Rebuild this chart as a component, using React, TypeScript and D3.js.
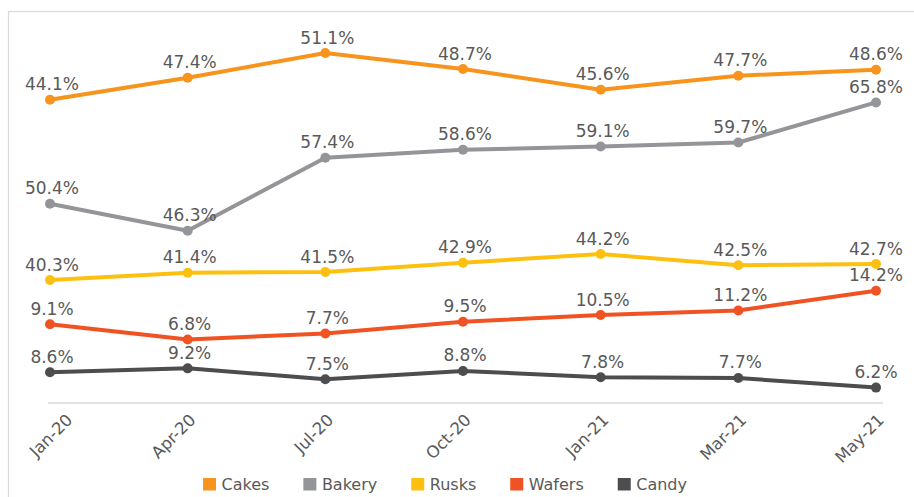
import { useEffect, useRef } from "react";
import * as d3 from "d3";

const width = 914;
const height = 497;
const plot = { left: 50, right: 876, top: 11, bottom: 403 };

const months = ["Jan-20", "Apr-20", "Jul-20", "Oct-20", "Jan-21", "Mar-21", "May-21"];

const cakes = [44.1, 47.4, 51.1, 48.7, 45.6, 47.7, 48.6];
const bakery = [50.4, 46.3, 57.4, 58.6, 59.1, 59.7, 65.8];
const rusks = [40.3, 41.4, 41.5, 42.9, 44.2, 42.5, 42.7];
const wafers = [9.1, 6.8, 7.7, 9.5, 10.5, 11.2, 14.2];
const candy = [8.6, 9.2, 7.5, 8.8, 7.8, 7.7, 6.2];

const seriesNames = ["Cakes", "Bakery", "Rusks", "Wafers", "Candy"];
const seriesValues = [cakes, bakery, rusks, wafers, candy];

// every series sits on its own hidden value axis (as in the source workbook)
const seriesDomains: [number, number][] = [
  [-1.4, 57.4],
  [20.1, 79.7],
  [21.85, 80.65],
  [-2.84, 56.64],
  [3.8, 64.9],
];

const seriesColors = ["#f7941e", "#939598", "#fdc010", "#f05323", "#4d4d4f"];

type Point = { month: string; value: number };

export default function App() {
  const svgRef = useRef<SVGSVGElement | null>(null);

  useEffect(() => {
    if (!svgRef.current) return;
    const svg = d3.select(svgRef.current);

    const x = d3.scalePoint<string>().domain(months).range([plot.left, plot.right]).padding(0);

    const series = seriesNames.map((name, i) => {
      const y = d3.scaleLinear().domain(seriesDomains[i]).range([plot.bottom, plot.top]);
      const points: Point[] = months.map((m, j) => ({ month: m, value: seriesValues[i][j] }));
      return { name, color: seriesColors[i], y, points };
    });

    // x 軸線
    svg
      .select(".x-axis-line")
      .attr("x1", plot.left - 2)
      .attr("x2", plot.right + 7)
      .attr("y1", plot.bottom)
      .attr("y2", plot.bottom)
      .attr("stroke", "#d9d9d9")
      .attr("stroke-width", 1.5);

    // x 軸文字 (斜 45 度)，最左邊的字不要超出左側
    const xLabels = svg
      .select(".x-labels")
      .selectAll<SVGTextElement, string>("text")
      .data(months)
      .join("text")
      .attr("text-anchor", "end")
      .attr("fill", "#595959")
      .style("font-family", "'DejaVu Sans', sans-serif")
      .style("font-size", "16.5px")
      .text((d) => d);

    xLabels.attr("transform", function (d) {
      const len = this.getComputedTextLength();
      let ax = (x(d) ?? 0) + 9;
      const leftEdge = ax - (len + 12) * Math.SQRT1_2;
      if (leftEdge < 28) ax += 28 - leftEdge;
      return `translate(${ax}, ${plot.bottom + 18}) rotate(-45)`;
    });

    const groups = svg
      .select(".series")
      .selectAll<SVGGElement, (typeof series)[number]>("g")
      .data(series)
      .join("g");

    groups
      .selectAll("path")
      .data((s) => [s])
      .join("path")
      .attr("fill", "none")
      .attr("stroke", (s) => s.color)
      .attr("stroke-width", 4)
      .attr("stroke-linejoin", "round")
      .attr("d", (s) =>
        d3
          .line<Point>()
          .x((d) => x(d.month) ?? 0)
          .y((d) => s.y(d.value))(s.points),
      );

    groups
      .selectAll("circle")
      .data((s) => s.points.map((p) => ({ ...p, s })))
      .join("circle")
      .attr("cx", (d) => x(d.month) ?? 0)
      .attr("cy", (d) => d.s.y(d.value))
      .attr("r", 5)
      .attr("fill", (d) => d.s.color);

    // 資料標籤
    svg
      .select(".labels")
      .selectAll("text")
      .data(series.flatMap((s) => s.points.map((p) => ({ ...p, s }))))
      .join("text")
      .attr("x", (d) => (x(d.month) ?? 0) + (d.month === months[months.length - 1] ? 0 : 2))
      .attr("y", (d) => d.s.y(d.value) - 9.5)
      .attr("text-anchor", "middle")
      .attr("fill", "#595959")
      .style("font-family", "'DejaVu Sans', sans-serif")
      .style("font-size", "17px")
      .text((d) => `${d.value.toFixed(1)}%`);

    // 圖例
    const legend = svg.select<SVGGElement>(".legend");
    const items = legend
      .selectAll<SVGGElement, (typeof series)[number]>("g")
      .data(series)
      .join("g");

    items
      .selectAll("rect")
      .data((s) => [s])
      .join("rect")
      .attr("x", 0)
      .attr("y", -12)
      .attr("width", 13)
      .attr("height", 12.5)
      .attr("fill", (s) => s.color);

    items
      .selectAll("text")
      .data((s) => [s])
      .join("text")
      .attr("x", 18.5)
      .attr("y", 0)
      .attr("fill", "#595959")
      .style("font-family", "'DejaVu Sans', sans-serif")
      .style("font-size", "16px")
      .text((s) => s.name);

    let offset = 0;
    const positions: number[] = [];
    items.each(function () {
      const t = d3.select(this).select<SVGTextElement>("text").node();
      positions.push(offset);
      offset += 18.5 + (t ? t.getComputedTextLength() : 40) + 34;
    });
    const total = offset - 34;
    const startX = 445 - total / 2;
    items.attr("transform", (_, i) => `translate(${startX + positions[i]}, 490)`);
  }, []);

  return (
    <svg
      ref={svgRef}
      width={width}
      height={height}
      viewBox={`0 0 ${width} ${height}`}
      style={{ position: "absolute", left: 0, top: 0, display: "block", background: "#fff" }}
    >
      <rect x={8.5} y={11.5} width={920} height={500} fill="#fff" stroke="#d9d9d9" strokeWidth={1.2} />
      <line className="x-axis-line" />
      <g className="x-labels" />
      <g className="series" />
      <g className="labels" />
      <g className="legend" />
    </svg>
  );
}
